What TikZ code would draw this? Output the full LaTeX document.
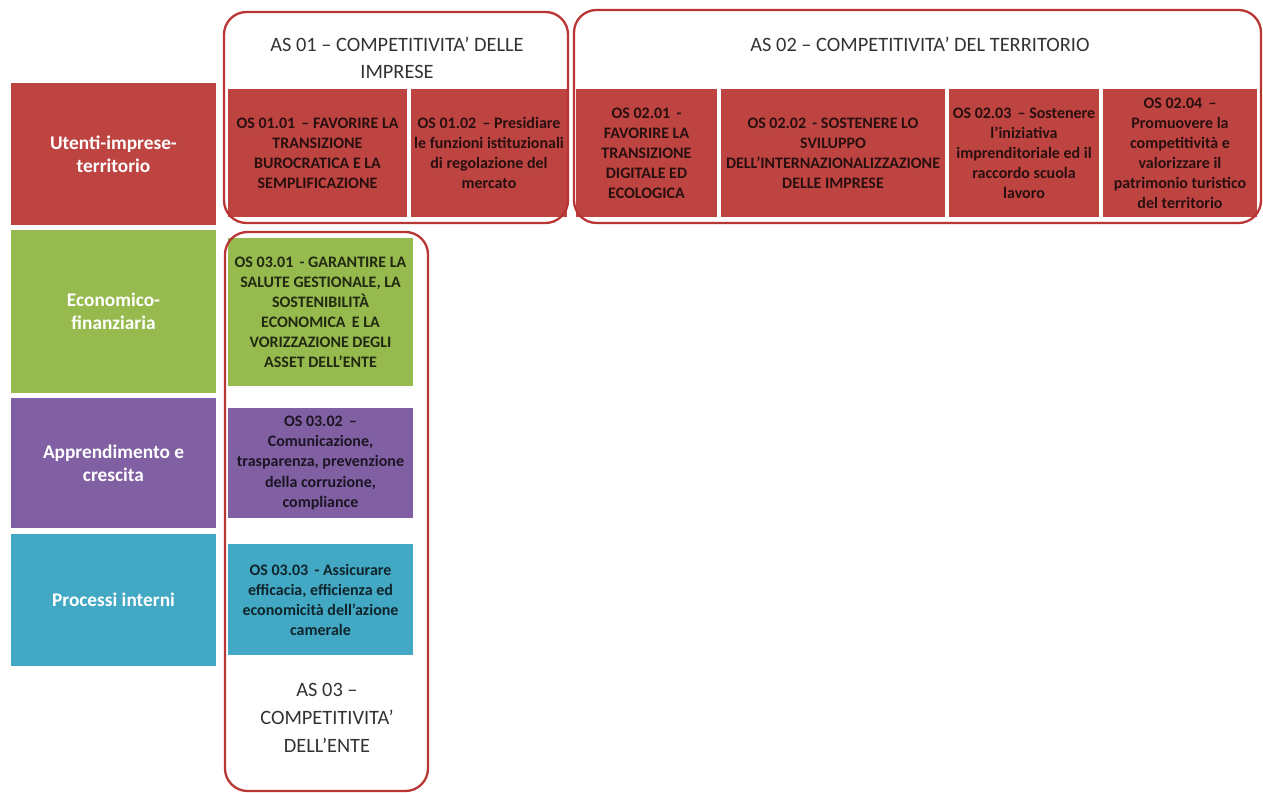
\documentclass[tikz,border=0pt]{standalone}
\usepackage{fontspec}
\setmainfont{Carlito}
\usepackage{xcolor}
\usetikzlibrary{positioning,calc}

\definecolor{bscred}{RGB}{190,68,66}
\definecolor{bscgreen}{RGB}{150,186,78}
\definecolor{bscpurple}{RGB}{128,96,162}
\definecolor{bsccyan}{RGB}{66,168,196}
\definecolor{asborder}{RGB}{186,52,52}

\begin{document}
\begin{tikzpicture}[
    persp/.style={rectangle, fill=#1, text=white, font=\bfseries\fontsize{11}{13}\selectfont,
        align=center, minimum width=4.10cm, inner sep=2pt},
    obj/.style={rectangle, fill=#1, text=#1!22!black, font=\bfseries\fontsize{9.1}{11.4}\selectfont,
        align=center, inner sep=1pt},
    area/.style={draw=asborder, line width=1.3pt, rounded corners=0.45cm},
    areatitle/.style={text=black!80, font=\fontsize{11.6}{15}\selectfont, align=center}
]
\useasboundingbox (0,0) rectangle (25.26,-15.86);

% prospettive
\node [persp=bscred,    minimum height=2.84cm] (ut)   at (2.27,-3.08)  {Utenti-imprese-\\territorio};
\node [persp=bscgreen,  minimum height=3.26cm] (eco)  at (2.27,-6.23)  {Economico-\\finanziaria};
\node [persp=bscpurple, minimum height=2.60cm] (app)  at (2.27,-9.26)  {Apprendimento e\\crescita};
\node [persp=bsccyan,   minimum height=2.64cm] (proc) at (2.27,-12.00) {Processi interni};

% obiettivi strategici - riga 1
\node [obj=bscred, minimum width=3.58cm, minimum height=2.56cm] (os0101) at (6.35,-3.06)
    {OS 01.01 \,-- FAVORIRE LA\\TRANSIZIONE\\BUROCRATICA E LA\\SEMPLIFICAZIONE};
\node [obj=bscred, minimum width=3.12cm, minimum height=2.56cm] (os0102) at (9.78,-3.06)
    {OS 01.02 \,-- Presidiare\\le funzioni istituzionali\\di regolazione del\\mercato};
\node [obj=bscred, minimum width=2.82cm, minimum height=2.56cm] (os0201) at (12.93,-3.06)
    {OS 02.01 \,-\\FAVORIRE LA\\TRANSIZIONE\\DIGITALE ED\\ECOLOGICA};
\node [obj=bscred, minimum width=4.48cm, minimum height=2.56cm] (os0202) at (16.66,-3.06)
    {OS 02.02 \,- SOSTENERE LO\\SVILUPPO\\DELL'INTERNAZIONALIZZAZIONE\\DELLE IMPRESE};
\node [obj=bscred, minimum width=3.00cm, minimum height=2.56cm] (os0203) at (20.48,-3.06)
    {OS 02.03 \,-- Sostenere\\l'iniziativa\\imprenditoriale ed il\\raccordo scuola\\lavoro};
\node [obj=bscred, minimum width=3.08cm, minimum height=2.56cm] (os0204) at (23.60,-3.06)
    {OS 02.04 \,--\\Promuovere la\\competitività e\\valorizzare il\\patrimonio turistico\\del territorio};

% obiettivi strategici - colonna AS 03
\node [obj=bscgreen, minimum width=3.70cm, minimum height=2.96cm] (os0301) at (6.41,-6.24)
    {OS 03.01 \,- GARANTIRE LA\\SALUTE GESTIONALE, LA\\SOSTENIBILITÀ\\ECONOMICA \,E LA\\VORIZZAZIONE DEGLI\\ASSET DELL'ENTE};
\node [obj=bscpurple, minimum width=3.70cm, minimum height=2.20cm] (os0302) at (6.41,-9.26)
    {OS 03.02 \,--\\Comunicazione,\\trasparenza, prevenzione\\della corruzione,\\compliance};
\node [obj=bsccyan, minimum width=3.70cm, minimum height=2.22cm] (os0303) at (6.41,-11.99)
    {OS 03.03 \,- Assicurare\\efficacia, efficienza ed\\economicità dell'azione\\camerale};

% aree strategiche
\draw [area] (4.48,-0.24) rectangle (11.36,-4.46);
\draw [area] (11.48,-0.20) rectangle (25.22,-4.46);
\draw [area] (4.50,-4.64) rectangle (8.56,-15.82);

\node [areatitle] (as01) at (7.94,-1.16) {AS 01 -- COMPETITIVITA’ DELLE\\IMPRESE};
\node [areatitle] (as02) at (18.40,-0.88) {AS 02 -- COMPETITIVITA’ DEL TERRITORIO};
\node [areatitle, font=\fontsize{11.6}{16}\selectfont] (as03) at (6.54,-14.36) {AS 03 --\\COMPETITIVITA’\\DELL’ENTE};

\end{tikzpicture}
\end{document}
